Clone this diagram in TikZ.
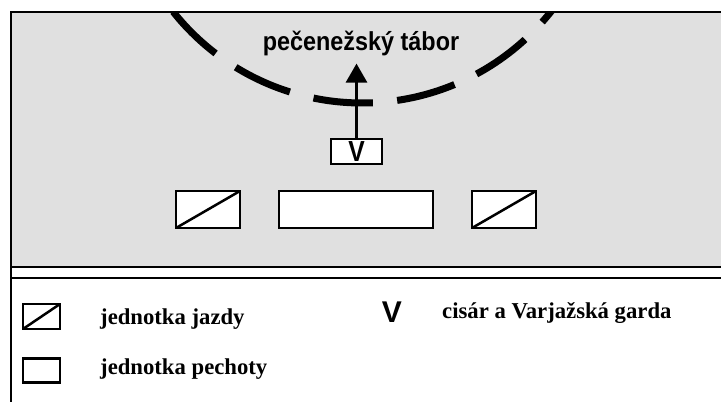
\documentclass[tikz,border=0pt]{standalone}
\usepackage{fontspec}
\setmainfont{Liberation Serif}
\setsansfont{Liberation Sans}
\usetikzlibrary{arrows.meta}
\usetikzlibrary{positioning}
\definecolor{fieldgrey}{RGB}{224,224,224}

\begin{document}
\begin{tikzpicture}[
    x=1pt, y=-1pt,
    unitBox/.style={
        rectangle, draw, fill=white,
        line width=2.5pt,
        inner sep=0pt
    },
    cavalryBox/.style={
        unitBox,
        path picture={\draw[line width=2.5pt] (path picture bounding box.south west) -- (path picture bounding box.north east);}
    },
    legendText/.style={
        anchor=base west, inner sep=0pt,
        font=\fontsize{22.7}{24}\selectfont\bfseries
    },
    campLine/.style={line width=7pt, dash pattern=on 59.7pt off 24.4pt}
]
\useasboundingbox (0,0) rectangle (721,402);

% battlefield
\fill[fieldgrey] (11,12) rectangle (721,267);
\begin{scope}
    \clip (11,12) rectangle (721,267);
    \draw[campLine] ([shift={(141.6:241)}]362,-138) arc[start angle=141.6, end angle=34, radius=241];
\end{scope}

\node[anchor=base, inner sep=0pt, font=\sffamily\bfseries\fontsize{26}{28}\selectfont] (camp) at (361,50) {\scalebox{0.9}[1]{pečenežský tábor}};

\node[unitBox, minimum width=51pt, minimum height=25pt, font=\sffamily\bfseries\fontsize{29}{30}\selectfont] (emperor) at (356.5,151.5) {\scalebox{0.85}[1]{V}};
\node[cavalryBox, minimum width=64pt, minimum height=37pt] (leftWing) at (208,209.5) {};
\node[unitBox, minimum width=154pt, minimum height=37pt] (infantry) at (356,209.5) {};
\node[cavalryBox, minimum width=64pt, minimum height=37pt] (rightWing) at (504,209.5) {};

\draw[line width=3pt, -{Triangle[length=19pt, width=21pt]}, shorten >=8pt] (emperor.north) -- (emperor.north |- camp.south);

% frame and legend separator
\draw[line width=2.5pt] (721,12) -- (11,12) -- (11,402);
\draw[line width=2.8pt] (11,267) -- (721,267);
\draw[line width=2.8pt] (11,278) -- (721,278);

% legend
\node[cavalryBox, minimum width=37pt, minimum height=25pt] (cavLeg) at (41.5,316.5) {};
\node[unitBox, minimum width=37pt, minimum height=24pt, below=27pt of cavLeg] (infLeg) {};
\node[legendText] (cavText) at (100,324) {jednotka jazdy};
\node[legendText] (infText) at (100,374) {jednotka pechoty};
\node[anchor=base, inner sep=0pt, font=\sffamily\bfseries\fontsize{30}{30}\selectfont] (vLeg) at (392,322) {V};
\node[legendText] (vText) at (442,318) {cisár a Varjažská garda};
\end{tikzpicture}
\end{document}
